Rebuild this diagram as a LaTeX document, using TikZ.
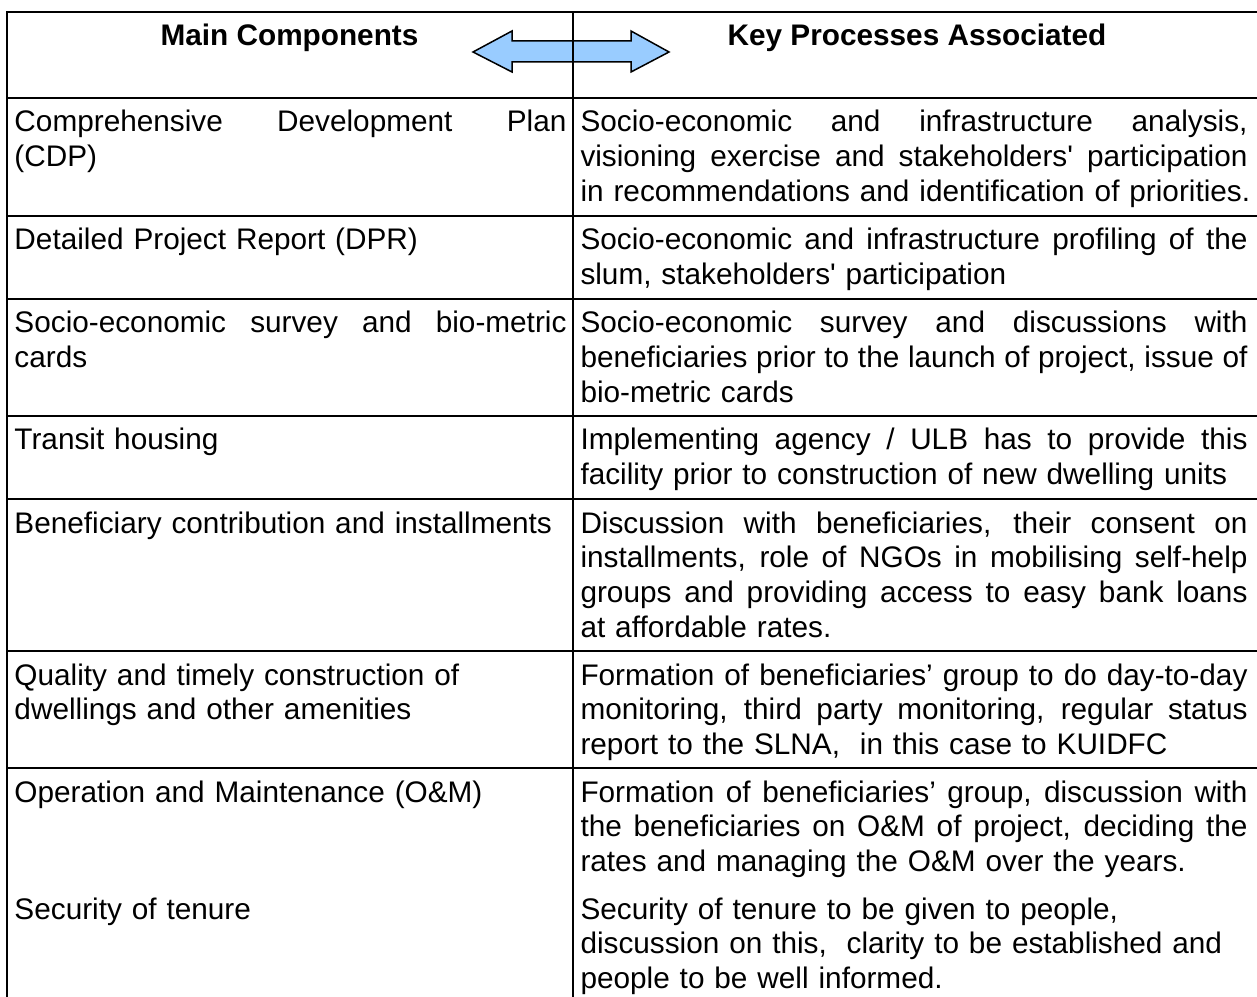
\documentclass[tikz,border=0pt]{standalone}
\usepackage{fontspec}
\setmainfont{Liberation Sans}
\definecolor{arrowblue}{RGB}{153,204,255}
\newlength\compw \setlength\compw{220.8pt}
\newlength\procw \setlength\procw{266.8pt}
% a justified (spread) line of the left / right column
\newcommand\fillc[1]{\makebox[\compw][s]{\spaceskip=\fontdimen2\font plus 1fil minus .08em #1}}
\newcommand\fillp[1]{\makebox[\procw][s]{\spaceskip=\fontdimen2\font plus 1fil minus .08em #1}}
\tikzset{
  rule/.style={line width=0.5pt},
  head/.style={anchor=base, inner sep=0pt, font={\fontsize{11.9pt}{13.9pt}\selectfont\bfseries}},
  comp/.style={anchor=base west, inner sep=0pt, align=left, text width=\compw+30pt,
    font={\fontsize{11.9pt}{13.9pt}\selectfont\hyphenpenalty=10000\exhyphenpenalty=10000}},
  proc/.style={comp, text width=\procw+30pt},
}
\begin{document}
\begin{tikzpicture}[x=0.4pt, y=-0.4pt]
  \useasboundingbox (0,0) rectangle (1257,997);
  % double arrow between the headings
  \draw[line width=0.6pt, fill=arrowblue] (473,52) -- (512,31) -- (512,41) -- (631,41)
    -- (631,31) -- (669,52) -- (631,72) -- (631,62) -- (512,62) -- (512,72) -- cycle;
  % table rules
  \draw[rule] (7,997) -- (7,12) -- (1257,12);
  \draw[rule] (573,12) -- (573,997);
  \foreach \y in {98,216,299,416,499,651,768}
    \draw[rule] (7,\y) -- (1257,\y);
  % headings
  \node[head] (mainh) at (289.5,46) {Main Components};
  \node[head] (keyh) at (917,46) {Key Processes Associated};
  % rows
  \node[comp] (cdp) at (14,132) {\fillc{Comprehensive Development Plan}\\(CDP)};
  \node[proc] (cdpp) at (580,132) {\fillp{Socio-economic and infrastructure analysis,}\\
    \fillp{visioning exercise and stakeholders\textquotesingle{} participation}\\
    in recommendations and identification of priorities.};
  \node[comp] (dpr) at (14,250) {Detailed Project Report (DPR)};
  \node[proc] (dprp) at (580,250) {\fillp{Socio-economic and infrastructure profiling of the}\\
    slum, stakeholders\textquotesingle{} participation};
  \node[comp] (survey) at (14,333) {\fillc{Socio-economic survey and bio-metric}\\cards};
  \node[proc] (surveyp) at (580,333) {\fillp{Socio-economic survey and discussions with}\\
    \fillp{beneficiaries prior to the launch of project, issue of}\\
    bio-metric cards};
  \node[comp] (transit) at (14,450) {Transit housing};
  \node[proc] (transitp) at (580,450) {\fillp{Implementing agency / ULB has to provide this}\\
    facility prior to construction of new dwelling units};
  \node[comp] (contrib) at (14,533) {Beneficiary contribution and installments};
  \node[proc] (contribp) at (580,533) {\fillp{Discussion with beneficiaries, their consent on}\\
    \fillp{installments, role of NGOs in mobilising self-help}\\
    \fillp{groups and providing access to easy bank loans}\\
    at affordable rates.};
  \node[comp] (quality) at (14,685) {Quality and timely construction of\\dwellings and other amenities};
  \node[proc] (qualityp) at (580,685) {\fillp{Formation of beneficiaries’ group to do day-to-day}\\
    \fillp{monitoring, third party monitoring, regular status}\\
    report to the SLNA,\ \ in this case to KUIDFC};
  \node[comp] (om) at (14,802) {Operation and Maintenance (O\&M)};
  \node[proc] (omp) at (580,802) {\fillp{Formation of beneficiaries’ group, discussion with}\\
    \fillp{the beneficiaries on O\&M of project, deciding the}\\
    rates and managing the O\&M over the years.};
  \node[comp] (tenure) at (14,919) {Security of tenure};
  \node[proc] (tenurep) at (580,919) {Security of tenure to be given to people,\\
    discussion on this,\ \ clarity to be established and\\
    people to be well informed.};
\end{tikzpicture}
\end{document}
